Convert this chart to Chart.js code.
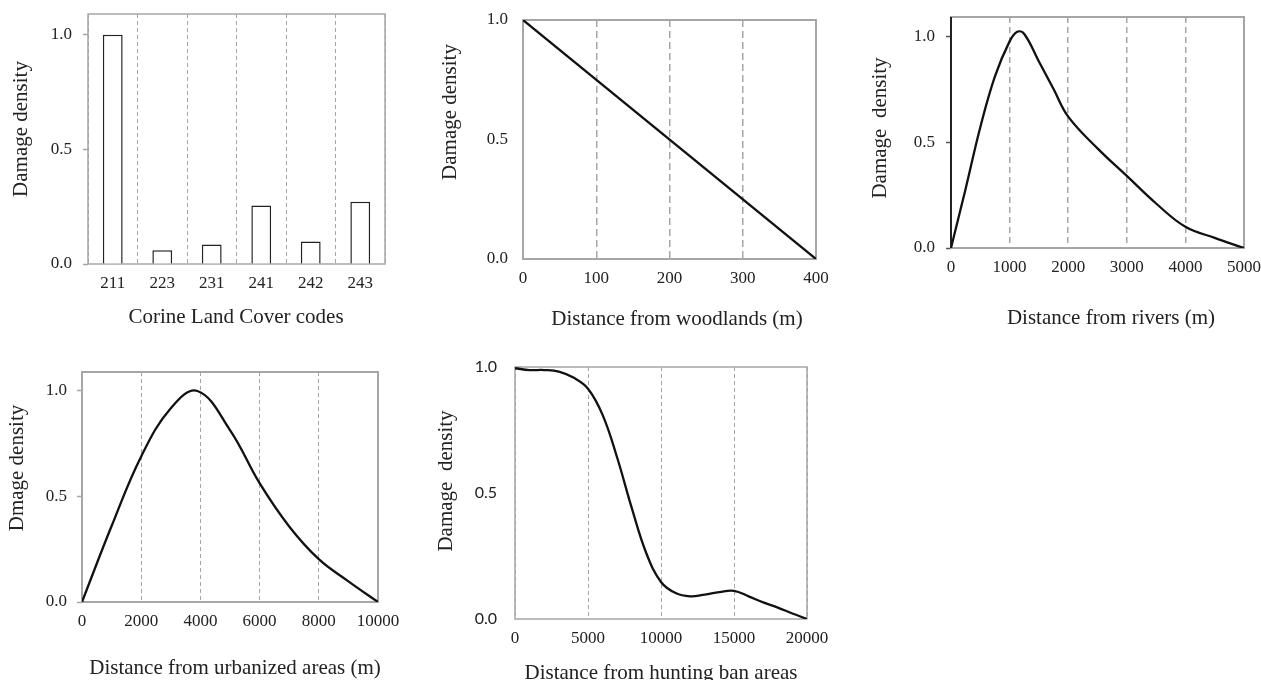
<!DOCTYPE html>
<html>
<head>
<meta charset="utf-8">
<title>Damage density</title>
<script src="https://cdn.jsdelivr.net/npm/chart.js@4.4.1/dist/chart.umd.min.js"></script>
<style>
  html, body { margin: 0; padding: 0; background: #fff; }
  #page { position: relative; width: 1261px; height: 680px; overflow: hidden; }
  #page canvas { position: absolute; left: 0; top: 0; }
</style>
</head>
<body>
<div id="page">
  <canvas id="c-clc" width="1261" height="680"></canvas>
  <canvas id="c-wood" width="1261" height="680"></canvas>
  <canvas id="c-river" width="1261" height="680"></canvas>
  <canvas id="c-urban" width="1261" height="680"></canvas>
  <canvas id="c-hunt" width="1261" height="680"></canvas>
</div>
<script>
// Data
var densityTicks = [0, 0.5, 1.0];

var clcCodes = ["211", "223", "231", "241", "242", "243"];
var clcDensity = [1.0, 0.06, 0.085, 0.255, 0.098, 0.271];

var woodDist = [0, 400];
var woodDensity = [1.0, 0];
var woodTicks = [0, 100, 200, 300, 400];

var riverDist = [0, 250, 500, 750, 1000, 1130, 1250, 1500, 1750, 2000, 2500, 3000, 3500, 4000, 4500, 5000];
var riverDensity = [0, 0.28, 0.57, 0.81, 0.975, 1.02, 1.01, 0.88, 0.75, 0.62, 0.47, 0.34, 0.21, 0.1, 0.048, 0];
var riverTicks = [0, 1000, 2000, 3000, 4000, 5000];

var urbanDist = [0, 1000, 2000, 3000, 3900, 5000, 6000, 7000, 8000, 9000, 10000];
var urbanDensity = [0, 0.36, 0.69, 0.918, 1.0, 0.815, 0.563, 0.358, 0.203, 0.098, 0];
var urbanTicks = [0, 2000, 4000, 6000, 8000, 10000];

var huntDist = [0, 1000, 2000, 3000, 4000, 5000, 6000, 7000, 8000, 9000, 10000, 11000, 12000, 13000, 14000, 15000, 16000, 17000, 18000, 19000, 20000];
var huntDensity = [0.995, 0.988, 0.988, 0.982, 0.958, 0.914, 0.81, 0.64, 0.44, 0.26, 0.147, 0.103, 0.09, 0.097, 0.107, 0.112, 0.09, 0.066, 0.045, 0.022, 0];
var huntTicks = [0, 5000, 10000, 15000, 20000];

(function (window) {
  var PAGE_W = 1261;
  var PAGE_H = 680;
  var AXIS_W = 60;
  var AXIS_H = 40;
  var SERIF = "'Liberation Serif', 'Times New Roman', serif";
  var INK = "#222222";
  var FRAME = "#a6a6a6";

  // Box around the plot area (Excel style)
  var framePlugin = {
    id: "frame",
    beforeDatasetsDraw: function (chart, args, opts) {
      var a = chart.chartArea;
      var ctx = chart.ctx;
      ctx.save();
      ctx.lineWidth = opts.width || 1.5;
      ctx.strokeStyle = opts.color || FRAME;
      ctx.strokeRect(a.left, a.top, a.right - a.left, a.bottom - a.top);
      if (opts.leftColor) {
        ctx.strokeStyle = opts.leftColor;
        ctx.beginPath();
        ctx.moveTo(a.left, a.top);
        ctx.lineTo(a.left, a.bottom);
        ctx.stroke();
      }
      ctx.restore();
    }
  };

  // Axis titles, placed like in the original figure
  var titlesPlugin = {
    id: "axisTitles",
    afterDraw: function (chart, args, opts) {
      var ctx = chart.ctx;
      (opts.items || []).forEach(function (t) {
        ctx.save();
        ctx.translate(t.x, t.y);
        if (t.vertical) ctx.rotate(-Math.PI / 2);
        ctx.font = "21px " + SERIF;
        ctx.fillStyle = INK;
        ctx.textAlign = "center";
        ctx.textBaseline = "alphabetic";
        ctx.fillText(t.text, 0, 0);
        ctx.restore();
      });
    }
  };

  function pairs(xs, ys) {
    return xs.map(function (x, i) { return { x: x, y: ys[i] }; });
  }

  function pinAxis(size, horizontal) {
    return function (scale) {
      if (horizontal) scale.height = size;
      else scale.width = size;
      scale.paddingLeft = 0;
      scale.paddingRight = 0;
      scale.paddingTop = 0;
      scale.paddingBottom = 0;
    };
  }

  function tickList(values) {
    return function (scale) {
      scale.ticks = values.map(function (v) { return { value: v }; });
    };
  }

  function yScale(p) {
    return {
      type: "linear",
      min: 0,
      max: p.yMax,
      afterBuildTicks: tickList(densityTicks),
      afterFit: pinAxis(AXIS_W, false),
      grid: p.yTickMarks
        ? { display: true, drawOnChartArea: false, drawTicks: true, tickLength: 5, tickWidth: 1.5, tickColor: p.tickColor || FRAME }
        : { display: false, drawTicks: false },
      border: { display: false },
      ticks: {
        padding: p.yPad,
        color: INK,
        font: p.yFont || { family: SERIF, size: 17 },
        callback: function (v) { return Number(v).toFixed(1); }
      }
    };
  }

  function xLinear(p) {
    return {
      type: "linear",
      min: p.xTicks[0],
      max: p.xTicks[p.xTicks.length - 1],
      afterBuildTicks: tickList(p.xTicks),
      afterFit: pinAxis(AXIS_H, true),
      grid: { display: true, drawTicks: false, color: FRAME, lineWidth: p.gridWidth || 1 },
      border: { display: false, dash: p.dash },
      ticks: {
        padding: 9,
        color: INK,
        font: { family: SERIF, size: 17 },
        maxRotation: 0,
        autoSkip: false,
        callback: function (v) { return String(v); }
      }
    };
  }

  function layoutFor(plot) {
    return {
      padding: {
        left: plot.l - AXIS_W,
        top: plot.t,
        right: PAGE_W - plot.r,
        bottom: PAGE_H - plot.b - AXIS_H
      }
    };
  }

  function baseOptions(p) {
    return {
      responsive: false,
      animation: false,
      devicePixelRatio: 1,
      layout: layoutFor(p.plot),
      plugins: {
        legend: { display: false },
        tooltip: { enabled: false },
        frame: { color: FRAME, width: p.frameWidth, leftColor: p.leftColor },
        axisTitles: { items: p.titles }
      }
    };
  }

  // Bar panel: Corine Land Cover codes
  function drawClc() {
    var p = {
      plot: { l: 88, t: 14, r: 385, b: 264 },
      frameWidth: 1.5,
      yMax: 1.09,
      yPad: 11,
      yTickMarks: true,
      titles: [
        { text: "Damage density", x: 27, y: 129, vertical: true },
        { text: "Corine Land Cover codes", x: 236, y: 323 }
      ]
    };
    var opts = baseOptions(p);
    opts.scales = {
      x: {
        type: "category",
        afterFit: pinAxis(AXIS_H, true),
        grid: { display: true, offset: true, drawTicks: false, color: FRAME, lineWidth: 1 },
        border: { display: false, dash: [4, 3] },
        ticks: { padding: 9, color: INK, font: { family: SERIF, size: 17 }, maxRotation: 0, autoSkip: false }
      },
      y: yScale(p)
    };
    new Chart(document.getElementById("c-clc"), {
      type: "bar",
      data: {
        labels: clcCodes,
        datasets: [{
          data: clcDensity,
          backgroundColor: "#ffffff",
          borderColor: "#222222",
          borderWidth: 1.5,
          barPercentage: 0.4,
          categoryPercentage: 1.0
        }]
      },
      options: opts,
      plugins: [framePlugin, titlesPlugin]
    });
  }

  // Curve panels share the same setup
  function drawCurve(canvasId, xs, ys, p) {
    var opts = baseOptions(p);
    opts.scales = { x: xLinear(p), y: yScale(p) };
    new Chart(document.getElementById(canvasId), {
      type: "line",
      data: {
        datasets: [{
          data: pairs(xs, ys),
          borderColor: "#111111",
          borderWidth: 2.3,
          pointRadius: 0,
          fill: false,
          tension: p.smooth ? 0.4 : 0
        }]
      },
      options: opts,
      plugins: [framePlugin, titlesPlugin]
    });
  }

  drawClc();

  drawCurve("c-wood", woodDist, woodDensity, {
    plot: { l: 523, t: 20, r: 816, b: 259 },
    frameWidth: 2,
    yMax: 1.0,
    yPad: 15,
    yTickMarks: false,
    xTicks: woodTicks,
    dash: [7, 4],
    gridWidth: 1.5,
    smooth: false,
    titles: [
      { text: "Damage density", x: 456, y: 112, vertical: true },
      { text: "Distance from woodlands (m)", x: 677, y: 325 }
    ]
  });

  drawCurve("c-river", riverDist, riverDensity, {
    plot: { l: 951, t: 17, r: 1244, b: 248 },
    frameWidth: 2,
    leftColor: "#222222",
    yMax: 1.09,
    yPad: 11,
    yTickMarks: true,
    tickColor: "#555555",
    xTicks: riverTicks,
    dash: [6, 4],
    gridWidth: 1.5,
    smooth: true,
    titles: [
      { text: "Damage  density", x: 886, y: 128, vertical: true },
      { text: "Distance from rivers (m)", x: 1111, y: 324 }
    ]
  });

  drawCurve("c-urban", urbanDist, urbanDensity, {
    plot: { l: 82, t: 372, r: 378, b: 602 },
    frameWidth: 2,
    yMax: 1.09,
    yPad: 10,
    yTickMarks: true,
    xTicks: urbanTicks,
    dash: [4, 3],
    gridWidth: 1,
    smooth: true,
    titles: [
      { text: "Dmage density", x: 23, y: 468, vertical: true },
      { text: "Distance from urbanized areas (m)", x: 235, y: 674 }
    ]
  });

  drawCurve("c-hunt", huntDist, huntDensity, {
    plot: { l: 515, t: 367, r: 807, b: 619 },
    frameWidth: 1.5,
    yMax: 1.0,
    yPad: 18,
    yTickMarks: false,
    yFont: { family: "Lato, 'Open Sans', sans-serif", size: 16 },
    xTicks: huntTicks,
    dash: [4, 3],
    gridWidth: 1,
    smooth: true,
    titles: [
      { text: "Damage  density", x: 452, y: 481, vertical: true },
      { text: "Distance from hunting ban areas", x: 661, y: 679 }
    ]
  });
})(window);
</script>
</body>
</html>
